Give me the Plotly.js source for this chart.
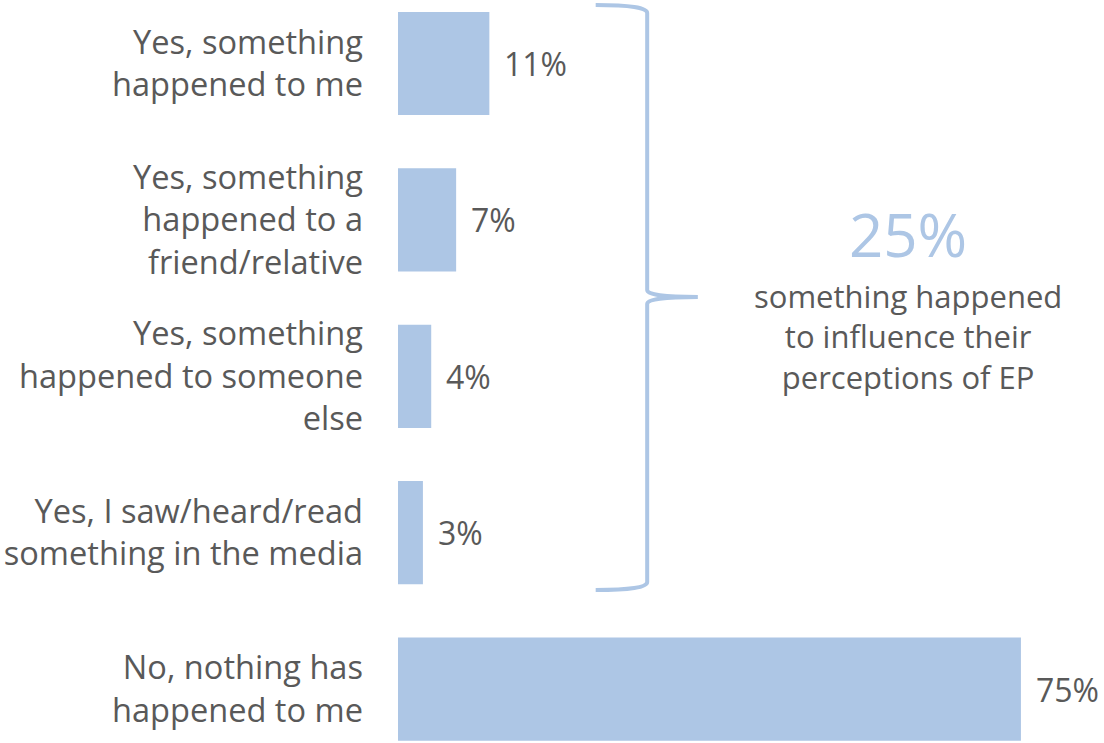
<!DOCTYPE html>
<html>
<head>
<meta charset="utf-8">
<script src="https://cdn.plot.ly/plotly-3.0.1.min.js"></script>
<style>html,body{margin:0;padding:0;background:#fff;}#chart{width:1104px;height:743px;}</style>
</head>
<body>
<div id="chart"></div>
<script>
const categories = [
  "Yes, something<br>happened to me",
  "Yes, something<br>happened to a<br>friend/relative",
  "Yes, something<br>happened to someone<br>else",
  "Yes, I saw/heard/read<br>something in the media",
  "No, nothing has<br>happened to me"
];
const values = [11, 7, 4, 3, 75];
const valueLabels = ["11%", "7%", "4%", "3%", "75%"];
const calloutValue = "25%";
const calloutText = "something happened<br>to influence their<br>perceptions of EP";

const barColor = "#adc6e5";
const textColor = "#595959";
const font = "Open Sans, sans-serif";

const trace = {
  type: "bar",
  orientation: "h",
  x: values,
  y: categories,
  marker: {color: barColor},
  width: 0.66,
  hoverinfo: "none"
};

const annotations = values.map((v, i) => ({
  x: v, y: categories[i], xref: "x", yref: "y",
  text: valueLabels[i], showarrow: false, xanchor: "left", xshift: 13,
  font: {family: font, size: 32, color: textColor}
}));
annotations.push({
  x: 61.4, y: 1 - 234/743, xref: "x", yref: "paper",
  text: calloutValue, showarrow: false, xanchor: "center", yanchor: "middle",
  font: {family: font, size: 60, color: barColor}
});
annotations.push({
  x: 61.4, y: 1 - 336/743, xref: "x", yref: "paper",
  text: calloutText, showarrow: false, xanchor: "center", yanchor: "middle",
  font: {family: font, size: 31, color: textColor}
});

const X0 = 23.8, X1 = 30.0, X2 = 36.1;
const bracePath =
  `M ${X0},0.9933 Q ${X1},0.9933 ${X1},0.9825 L ${X1},0.6097 Q ${X1},0.6003 ${X2},0.6003 ` +
  `Q ${X1},0.6003 ${X1},0.5908 L ${X1},0.2167 Q ${X1},0.2059 ${X0},0.2059`;

const layout = {
  width: 1104, height: 743,
  margin: {l: 398, r: 0, t: 0, b: 0},
  paper_bgcolor: "#fff", plot_bgcolor: "#fff",
  showlegend: false,
  xaxis: {range: [0, 85], visible: false, fixedrange: true},
  yaxis: {
    type: "category",
    range: [4.345, -0.406],
    showgrid: false, zeroline: false, showline: false, ticks: "",
    ticklabelstandoff: 34,
    tickfont: {family: font, size: 32.6, color: textColor}
  },
  shapes: [{
    type: "path", xref: "x", yref: "paper", path: bracePath,
    line: {color: barColor, width: 4}
  }],
  annotations: annotations
};

Plotly.newPlot("chart", [trace], layout, {displayModeBar: false, staticPlot: true});
</script>
</body>
</html>
